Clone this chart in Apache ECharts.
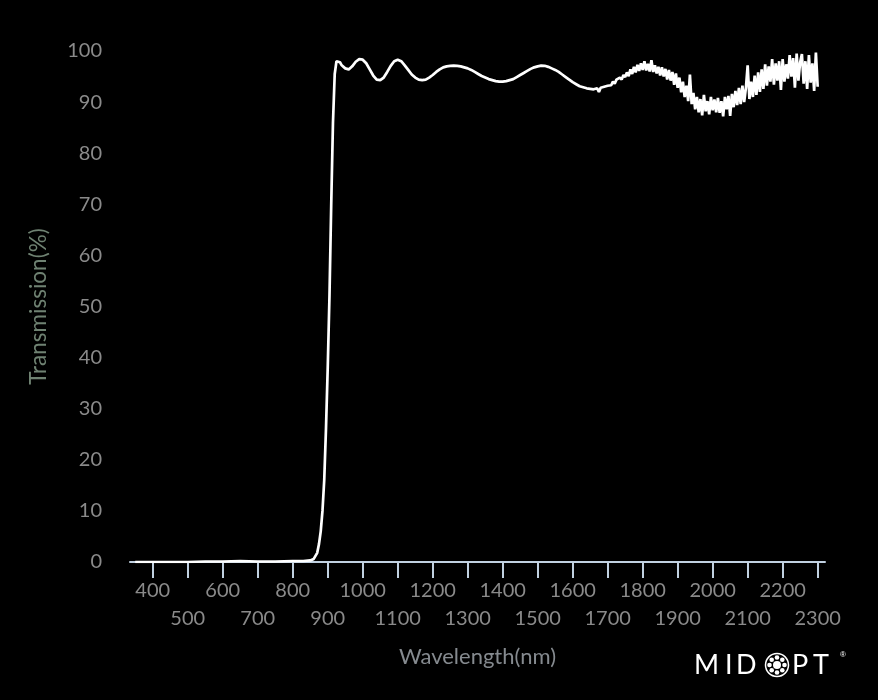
<!DOCTYPE html>
<html><head><meta charset="utf-8">
<script src="https://cdn.jsdelivr.net/npm/echarts@6/dist/echarts.min.js"></script>
<style>html,body{margin:0;padding:0;background:#000}#c{width:878px;height:700px}</style>
</head><body><div id="c"></div>
<script>
// ---- data ----
const wavelength = [
  350,400,450,500,550,600,650,700,750,800,830,850,855,860,865,870,875,880,885,890,895,900,905,910,915,920,925,930,935,940,950,960,965,970,980,990,1000,
  1010,1020,1030,1040,1050,1060,1070,1080,1090,1100,1110,1120,1130,1140,1150,1160,1170,1180,1190,1200,1210,1220,1230,1240,1250,1260,1270,1280,1290,1300,
  1310,1320,1330,1340,1350,1360,1370,1380,1390,1400,1410,1420,1430,1440,1450,1460,1470,1480,1490,1500,1510,1520,1530,1540,1550,1560,1570,1580,1590,1600,
  1610,1620,1630,1640,1650,
  1660,1665,1670,1675,1680,1685,1690,1695,1700,1705,1710,1715,1720,1725,1730,1735,1740,1745,1750,1755,1760,1765,1770,1775,1780,1785,1790,1795,1800,
  1805,1810,1815,1820,1825,1830,1835,1840,1845,1850,1855,1860,1865,1870,1875,1880,1885,1890,1895,1900,1905,1910,1915,1920,1925,1930,1935,1940,1945,1950,
  1955,1960,1965,1970,1975,1980,1985,1990,1995,2000,2005,2010,2015,2020,2025,2030,2035,2040,2045,2050,2055,2060,2065,2070,2075,2080,2085,2090,2095,2100,
  2105,2110,2115,2120,2125,2130,2135,2140,2145,2150,2155,2160,2165,2170,2175,2180,2185,2190,2195,2200,2205,2210,2215,2220,2225,2230,2235,2240,2245,2250,
  2255,2260,2265,2270,2275,2280,2285,2290,2295,2300
];
const transmission = [
  0,0,0,0,0.1,0.1,0.2,0.1,0.1,0.2,0.2,0.3,0.4,0.6,0.9,1.8,3.5,6,10,16,26,38,52,70,86,95.5,98,98.3,97.8,97.2,96.6,96.4,96.5,97,97.9,98.4,98.3,
  97.6,96.4,95.2,94.4,94.3,94.8,95.9,97.1,98,98.3,98,97.2,96.3,95.4,94.8,94.4,94.3,94.4,94.8,95.3,95.9,96.4,96.8,97,97.1,97.15,97.1,97,96.8,96.6,
  96.3,95.9,95.5,95.1,94.8,94.5,94.3,94.1,94,94,94.1,94.3,94.5,94.9,95.3,95.7,96.1,96.5,96.8,97,97.15,97.1,96.9,96.6,96.3,95.9,95.4,94.9,94.4,93.9,
  93.5,93.1,92.9,92.7,92.6,
  92.5,92.2,92.7,92.0,92.8,92.6,93.0,92.7,93.2,93.4,93.3,94.0,93.6,94.4,94.1,94.8,94.4,95.3,94.9,95.8,95.1,96.4,95.5,96.9,95.8,97.3,96.1,97.6,96.3,
  98.0,96.2,97.5,96.0,98.2,95.9,97.2,95.6,96.9,95.2,96.8,95.0,96.5,94.4,96.3,94.2,95.9,93.4,95.6,92.8,94.8,91.9,94.0,91.0,93.2,90.2,95.4,89.6,91.8,88.6,
  91.0,88.0,90.6,87.4,91.4,88.2,90.2,87.6,91.0,88.4,90.5,88.0,90.8,87.9,90.2,87.2,91.0,88.6,91.2,87.3,91.6,89.0,92.2,89.4,92.8,89.6,93.2,90.0,92.8,97.2,
  90.6,94.0,91.0,95.2,91.4,95.8,92.0,96.4,92.6,97.4,93.2,97.0,94.0,98.4,93.4,97.6,94.2,98.0,92.4,98.4,94.0,97.4,94.6,99.2,95.0,98.6,92.8,99.5,94.2,97.8,
  99.4,93.6,98.0,92.6,99.2,93.8,97.6,92.2,99.7,93.0
];
const xTickValues = [400,500,600,700,800,900,1000,1100,1200,1300,1400,1500,1600,1700,1800,1900,2000,2100,2200,2300];
const xLabelsUpper = [400,600,800,1000,1200,1400,1600,1800,2000,2200];
const xLabelsLower = [500,700,900,1100,1300,1500,1700,1900,2100,2300];
const xMin = 335, xMax = 2321;
const yMin = 0, yMax = 100, yStep = 10;

const labelColor = '#8a8a8a';
const axisColor = '#c0d0e0';
const font = 'Lato, "Open Sans", sans-serif';
const logoFont = '27px Lato, "Open Sans", sans-serif';
const plain = v => String(v);

const chart = echarts.init(document.getElementById('c'), null, {renderer: 'canvas'});
chart.setOption({
  backgroundColor: '#000',
  animation: false,
  grid: {left: 130, right: 53, top: 51, bottom: 138, containLabel: false},
  xAxis: [{
    type: 'value', min: xMin, max: xMax, position: 'bottom',
    name: 'Wavelength(nm)', nameLocation: 'middle', nameGap: 84,
    nameTextStyle: {color: '#858a8f', fontSize: 22, fontFamily: font},
    axisLine: {show: true, lineStyle: {color: axisColor, width: 2}},
    axisTick: {show: true, customValues: xTickValues, length: 16, lineStyle: {color: axisColor, width: 2}},
    axisLabel: {
      customValues: xLabelsUpper, color: labelColor, fontSize: 20, fontFamily: font,
      margin: 19, showMinLabel: true, showMaxLabel: true, formatter: plain
    },
    splitLine: {show: false}
  }, {
    type: 'value', min: xMin, max: xMax, position: 'bottom', offset: 0,
    axisLine: {show: false}, axisTick: {show: false},
    axisLabel: {
      customValues: xLabelsLower, color: labelColor, fontSize: 20, fontFamily: font,
      margin: 47, showMinLabel: true, showMaxLabel: true, formatter: plain
    },
    splitLine: {show: false}
  }],
  yAxis: {
    type: 'value', min: yMin, max: yMax, interval: yStep,
    name: 'Transmission(%)', nameLocation: 'middle', nameGap: 80,
    nameTextStyle: {color: '#6f8272', fontSize: 22.5, fontFamily: font},
    axisLine: {show: false}, axisTick: {show: false},
    axisLabel: {color: labelColor, fontSize: 20, fontFamily: font, margin: 28},
    splitLine: {show: false}
  },
  series: [{
    type: 'line', showSymbol: false, smooth: false, xAxisIndex: 0,
    lineStyle: {color: '#ffffff', width: 2.7},
    data: wavelength.map((w, i) => [w, transmission[i]])
  }],
  graphic: [
    {type: 'text', x: 694, y: 665, style: {text: 'M', fill: '#fff', font: logoFont, verticalAlign: 'middle'}},
    {type: 'text', x: 725, y: 665, style: {text: 'I', fill: '#fff', font: logoFont, verticalAlign: 'middle'}},
    {type: 'text', x: 736, y: 665, style: {text: 'D', fill: '#fff', font: logoFont, verticalAlign: 'middle'}},
    {type: 'circle', shape: {cx: 777, cy: 665, r: 11.5}, style: {fill: 'none', stroke: '#fff', lineWidth: 1.5}},
    {type: 'circle', shape: {cx: 777, cy: 665, r: 4}, style: {fill: '#fff'}},
    {type: 'circle', shape: {cx: 777, cy: 657.5, r: 2.3}, style: {fill: '#fff'}},
    {type: 'circle', shape: {cx: 777, cy: 672.5, r: 2.3}, style: {fill: '#fff'}},
    {type: 'circle', shape: {cx: 769.5, cy: 665, r: 2.3}, style: {fill: '#fff'}},
    {type: 'circle', shape: {cx: 784.5, cy: 665, r: 2.3}, style: {fill: '#fff'}},
    {type: 'circle', shape: {cx: 771.7, cy: 659.7, r: 2.3}, style: {fill: '#fff'}},
    {type: 'circle', shape: {cx: 782.3, cy: 659.7, r: 2.3}, style: {fill: '#fff'}},
    {type: 'circle', shape: {cx: 771.7, cy: 670.3, r: 2.3}, style: {fill: '#fff'}},
    {type: 'circle', shape: {cx: 782.3, cy: 670.3, r: 2.3}, style: {fill: '#fff'}},
    {type: 'text', x: 792, y: 665, style: {text: 'P', fill: '#fff', font: logoFont, verticalAlign: 'middle'}},
    {type: 'text', x: 813, y: 665, style: {text: 'T', fill: '#fff', font: logoFont, verticalAlign: 'middle'}},
    {type: 'text', x: 840, y: 655, style: {text: '®', fill: '#fff', font: '8px sans-serif', verticalAlign: 'middle'}}
  ]
});
</script>
</body></html>
